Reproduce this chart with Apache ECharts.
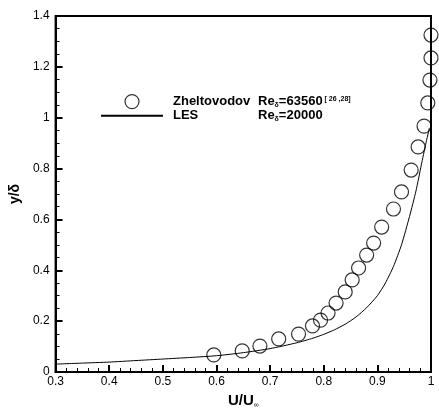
<!DOCTYPE html>
<html lang="en">
<head>
<meta charset="UTF-8">
<title>U/U profile</title>
<script src="https://cdn.jsdelivr.net/npm/echarts@6/dist/echarts.min.js"></script>
<style>
  html, body { margin: 0; padding: 0; background: #fff; }
  #main { width: 439px; height: 414px; }
</style>
</head>
<body>
<div id="main"></div>
<script type="text/javascript">
    // 实验数据 (Zheltovodov)
    var expU = [0.595, 0.648, 0.681, 0.716, 0.753, 0.779, 0.794, 0.808, 0.823, 0.840, 0.853, 0.865,
                0.880, 0.893, 0.908, 0.930, 0.945, 0.963, 0.976, 0.987, 0.994, 0.998, 1.0, 1.0];
    var expY = [0.067, 0.083, 0.102, 0.130, 0.149, 0.181, 0.204, 0.232, 0.271, 0.315, 0.362, 0.409,
                0.460, 0.507, 0.570, 0.641, 0.708, 0.794, 0.885, 0.967, 1.058, 1.148, 1.235, 1.325];
    // LES 曲线
    var lesU = [0.3, 0.35, 0.4, 0.45, 0.5, 0.55, 0.6, 0.65, 0.7, 0.75, 0.78, 0.8, 0.82, 0.84, 0.86,
                0.88, 0.9, 0.915, 0.93, 0.945, 0.96, 0.972, 0.982, 0.99, 0.997];
    var lesY = [0.031, 0.035, 0.039, 0.045, 0.051, 0.057, 0.064, 0.076, 0.092, 0.115, 0.133, 0.148,
                0.166, 0.188, 0.216, 0.253, 0.300, 0.350, 0.415, 0.500, 0.612, 0.712, 0.815, 0.895, 0.960];

    var font = "'Liberation Sans', Arial, sans-serif";

    function pairs(xs, ys) {
        var out = [];
        for (var i = 0; i < xs.length; i++) out.push([xs[i], ys[i]]);
        return out;
    }

    var chart = echarts.init(document.getElementById('main'));
    chart.setOption({
        animation: false,
        backgroundColor: '#fff',
        grid: {
            left: 51, right: 8, top: 16, bottom: 42,
            show: true, borderColor: '#000', borderWidth: 2
        },
        legend: {
            orient: 'vertical',
            left: 100, top: 94, padding: 0,
            itemWidth: 62, itemHeight: 14, itemGap: 0,
            selectedMode: false,
            data: [
                { name: 'exp', itemStyle: { borderWidth: 1.2, borderColor: '#000', color: 'rgba(255,255,255,0)' } },
                { name: 'les', itemStyle: { opacity: 0 } }
            ],
            formatter: function (name) {
                if (name === 'exp') return '{n|Zheltovodov}{r|Re}{s|δ}{r|=63560}{p| [ 26 ,28]}';
                return '{n|LES}{r|Re}{s|δ}{r|=20000}';
            },
            textStyle: {
                fontFamily: font, fontWeight: 'bold', fontSize: 13, color: '#000',
                rich: {
                    n: { fontFamily: font, fontWeight: 'bold', fontSize: 13, width: 85, padding: [0, 0, 0, 5] },
                    r: { fontFamily: font, fontWeight: 'bold', fontSize: 13 },
                    s: { fontFamily: font, fontSize: 7, verticalAlign: 'bottom', padding: [6, 0, 0, 0] },
                    p: { fontFamily: font, fontSize: 7, verticalAlign: 'top', padding: [0, 0, 6, 0] }
                }
            }
        },
        xAxis: {
            type: 'value', min: 0.3, max: 1, interval: 0.1,
            name: '{a|U/U}{b|∞}',
            nameLocation: 'middle', nameGap: 19,
            nameTextStyle: {
                rich: {
                    a: { fontFamily: font, fontWeight: 'bold', fontSize: 15, color: '#000' },
                    b: { fontFamily: font, fontSize: 7, color: '#000', verticalAlign: 'bottom', padding: [9, 0, 0, 0] }
                }
            },
            axisLine: { lineStyle: { color: '#000', width: 2 } },
            axisTick: { inside: true, length: 7, lineStyle: { color: '#000', width: 2 } },
            minorTick: { show: true, splitNumber: 5, length: 4, lineStyle: { color: '#000', width: 1 } },
            splitLine: { show: false },
            axisLabel: { color: '#000', fontFamily: font, fontSize: 12, margin: 4 }
        },
        yAxis: {
            type: 'value', min: 0, max: 1.4, interval: 0.2,
            name: 'y/δ',
            nameLocation: 'middle', nameGap: 30,
            nameTextStyle: { fontFamily: font, fontWeight: 'bold', fontSize: 14, color: '#000' },
            axisLine: { lineStyle: { color: '#000', width: 2 } },
            axisTick: { inside: true, length: 7, lineStyle: { color: '#000', width: 2 } },
            minorTick: { show: true, splitNumber: 4, length: 4, lineStyle: { color: '#000', width: 1 } },
            splitLine: { show: false },
            axisLabel: { color: '#000', fontFamily: font, fontSize: 12, margin: 6 }
        },
        series: [{
            name: 'les',
            type: 'line',
            data: pairs(lesU, lesY),
            showSymbol: false,
            symbol: 'none',
            smooth: 0.2,
            lineStyle: { color: '#000', width: 1 },
            itemStyle: { color: '#000' },
            z: 2
        }, {
            name: 'exp',
            type: 'scatter',
            data: pairs(expU, expY),
            symbol: 'circle',
            symbolSize: 14,
            itemStyle: { color: 'rgba(255,255,255,0)', borderColor: '#000', borderWidth: 1.2 },
            clip: false,
            z: 3
        }]
    });
</script>
</body>
</html>
